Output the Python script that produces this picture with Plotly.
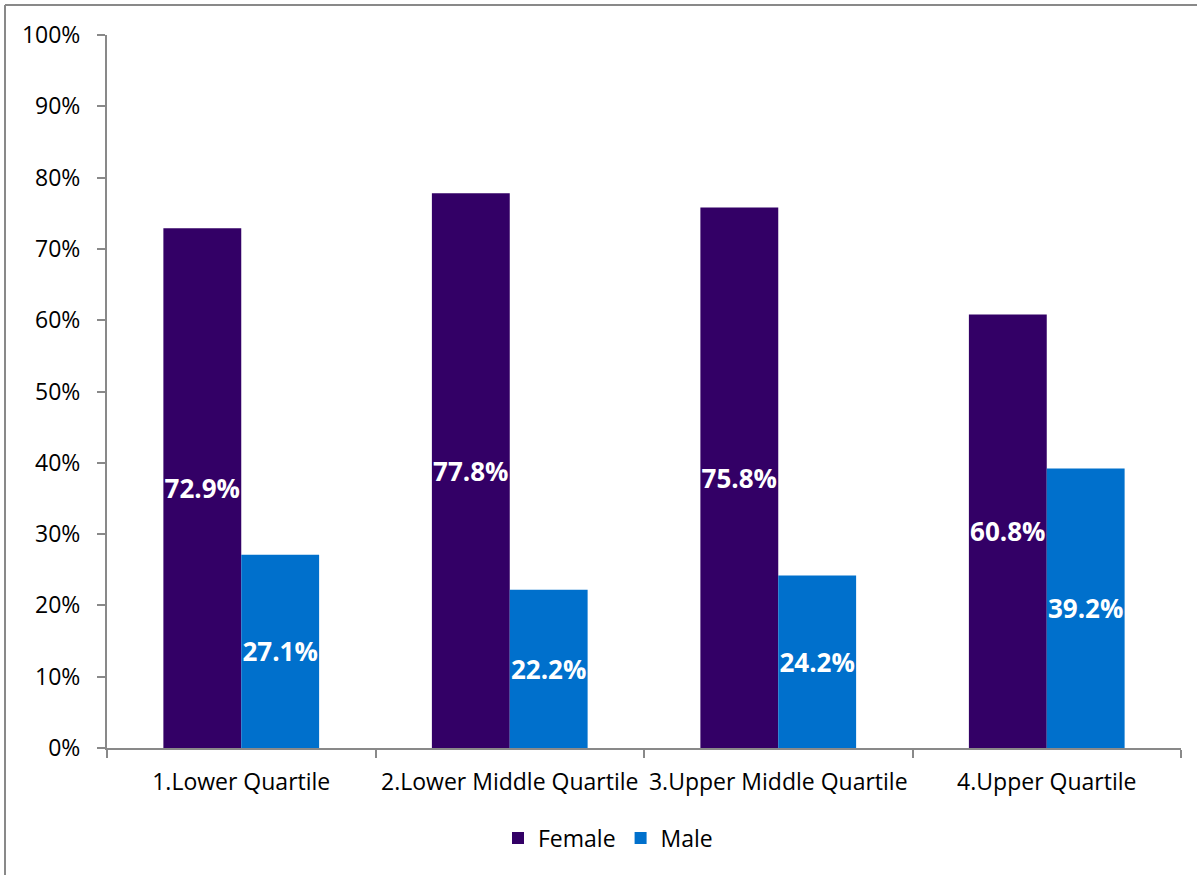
import plotly.graph_objects as go

categories = ["1.Lower Quartile", "2.Lower Middle Quartile", "3.Upper Middle Quartile", "4.Upper Quartile"]
female = [72.9, 77.8, 75.8, 60.8]
male = [27.1, 22.2, 24.2, 39.2]
y_ticks = list(range(0, 101, 10))
y_labels = [f"{v}%" for v in y_ticks]

FONT = "Open Sans"
W, H = 1197, 875
L, R, T, B = 107, 16, 35, 127
pw, ph = W - L - R, H - T - B

fig = go.Figure()
for name, vals, col in [("Female", female, "#330066"), ("Male", male, "#0070CC")]:
    fig.add_trace(go.Bar(
        name=name, x=categories, y=vals, marker=dict(color=col, line=dict(width=0)),
        text=[f"{v:.1f}%" for v in vals], textposition="inside", insidetextanchor="middle",
        textangle=0, constraintext="none", cliponaxis=False,
        textfont=dict(family=FONT, size=26, color="white", weight="bold"),
        hoverinfo="skip",
    ))

def px(x):
    return (x - L) / pw

def py(y):
    return (H - B - y) / ph

fig.update_layout(
    width=W, height=H, barmode="group", bargap=0.42, bargroupgap=0,
    margin=dict(l=L, r=R, t=T, b=B, pad=0, autoexpand=False),
    paper_bgcolor="white", plot_bgcolor="white",
    font=dict(family=FONT, size=23, color="black"),
    uniformtext=dict(mode=False),
    legend=dict(orientation="h", x=px(608), xanchor="center", y=py(838), yanchor="middle",
                font=dict(size=23), itemwidth=30, traceorder="normal"),
    xaxis=dict(showline=True, linecolor="#898989", linewidth=2, ticks="outside",
               tickcolor="#898989", ticklen=8, tickwidth=2, tickson="boundaries",
               showgrid=False, tickfont=dict(size=23), ticklabelstandoff=12,
               tickangle=0, automargin=False),
    yaxis=dict(range=[0, 100], tickvals=y_ticks, ticktext=y_labels, showline=True,
               linecolor="#898989", linewidth=2, ticks="outside", tickcolor="#898989",
               ticklen=8, tickwidth=2, showgrid=False, zeroline=False,
               tickfont=dict(size=23), ticklabelstandoff=12, automargin=False),
    shapes=[
        dict(type="line", xref="paper", yref="paper", x0=px(5), x1=px(5), y0=py(5), y1=py(900),
             line=dict(color="#898989", width=2)),
        dict(type="line", xref="paper", yref="paper", x0=px(5), x1=px(1220), y0=py(5), y1=py(5),
             line=dict(color="#898989", width=2)),
    ],
)
fig.write_html("out.html")
